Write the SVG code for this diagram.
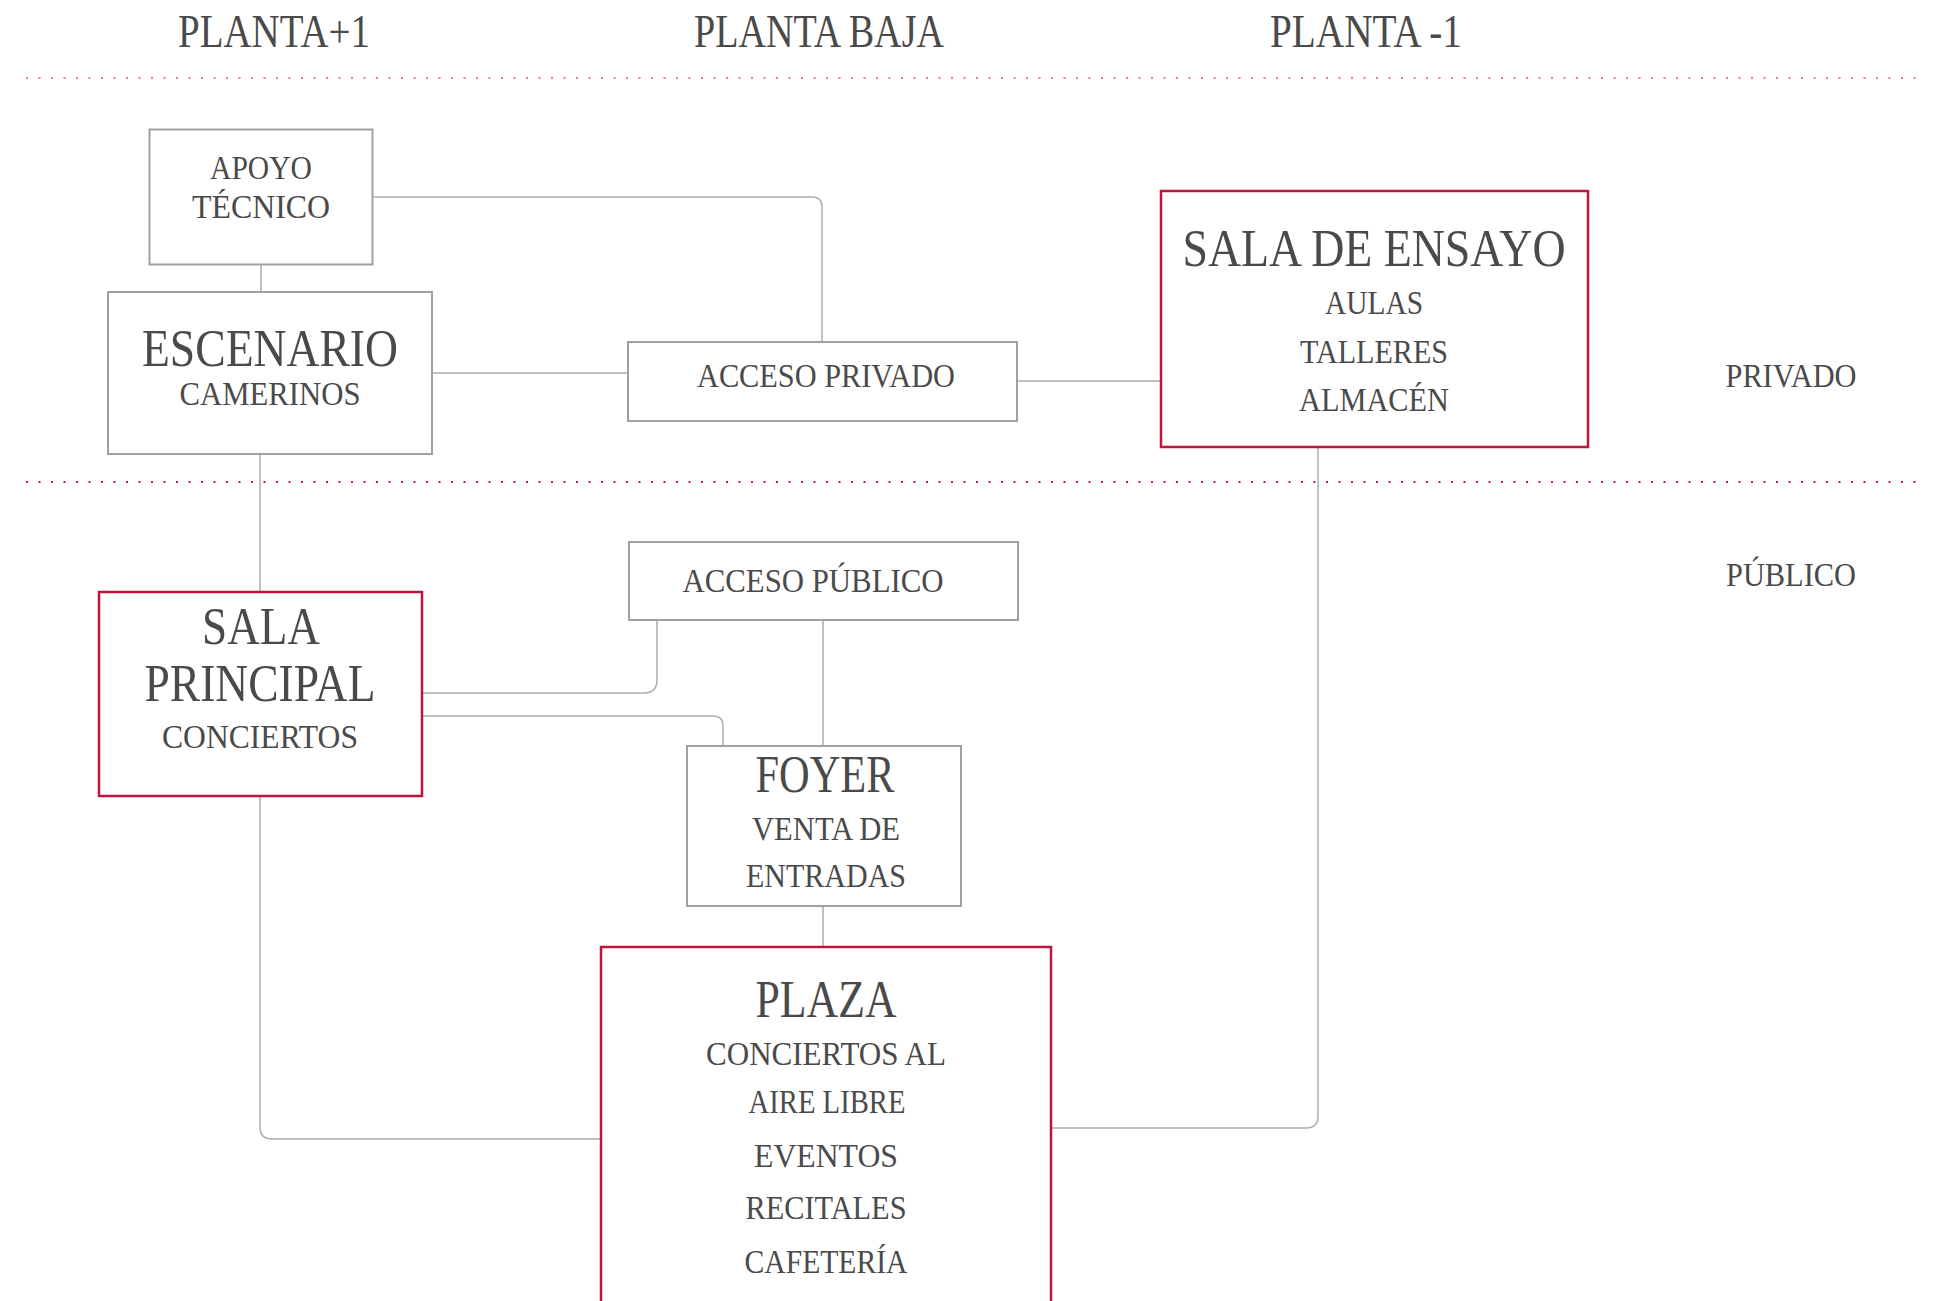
<svg xmlns="http://www.w3.org/2000/svg" width="1936" height="1301" viewBox="0 0 1936 1301">
<style>
text{font-family:"Liberation Serif","DejaVu Serif",serif;fill:#4a4a4a;text-anchor:middle}
.h{font-size:46px}
.b{font-size:52px}
.s{font-size:33px}
.box{fill:#fff;stroke:#a0a0a0;stroke-width:2}
.red{fill:#fff;stroke:#c0143c;stroke-width:2.5}
.c{fill:none;stroke:#adadad;stroke-width:1.5}
.dot1{stroke:#e07c98;stroke-width:2;stroke-dasharray:2 10.5}
.dot2{stroke:#d01848;stroke-width:2;stroke-dasharray:2 10.5}
</style>
<rect width="1936" height="1301" fill="#fff"/>
<g id="headers">
<text class="h" x="274" y="47" textLength="192" lengthAdjust="spacingAndGlyphs">PLANTA+1</text>
<text class="h" x="819" y="47" textLength="250" lengthAdjust="spacingAndGlyphs">PLANTA BAJA</text>
<text class="h" x="1366" y="47" textLength="192" lengthAdjust="spacingAndGlyphs">PLANTA -1</text>
</g>
<g id="separators">
<line class="dot1" x1="26" y1="78" x2="1924" y2="78"/>
<line class="dot2" x1="26" y1="482" x2="1924" y2="482"/>
</g>
<g id="zones">
<text class="s" x="1791" y="387" textLength="131" lengthAdjust="spacingAndGlyphs">PRIVADO</text>
<text class="s" x="1791" y="586" textLength="130" lengthAdjust="spacingAndGlyphs">PÚBLICO</text>
</g>
<g id="connectors">
<path class="c" d="M372 197 H812 Q822 197 822 207 V342"/>
<path class="c" d="M261 264 V292"/>
<path class="c" d="M432 373 H628"/>
<path class="c" d="M1017 381 H1161"/>
<path class="c" d="M260 454 V592"/>
<path class="c" d="M422 693 H644 Q657 693 657 680 V620"/>
<path class="c" d="M422 716 H713 Q723 716 723 726 V746"/>
<path class="c" d="M823 620 V746"/>
<path class="c" d="M823 906 V947"/>
<path class="c" d="M260 796 V1127 Q260 1139 272 1139 H601"/>
<path class="c" d="M1051 1128 H1306 Q1318 1128 1318 1116 V447"/>
</g>
<g id="apoyo">
<rect class="box" x="149.5" y="129.5" width="223" height="135"/>
<text class="s" x="261" y="179" textLength="102" lengthAdjust="spacingAndGlyphs">APOYO</text>
<text class="s" x="261" y="218" textLength="138" lengthAdjust="spacingAndGlyphs">TÉCNICO</text>
</g>
<g id="escenario">
<rect class="box" x="108" y="292" width="324" height="162"/>
<text class="b" x="270" y="366" textLength="256" lengthAdjust="spacingAndGlyphs">ESCENARIO</text>
<text class="s" x="270" y="405" textLength="181" lengthAdjust="spacingAndGlyphs">CAMERINOS</text>
</g>
<g id="acceso-privado">
<rect class="box" x="628" y="342" width="389" height="79"/>
<text class="s" x="826" y="387" textLength="258" lengthAdjust="spacingAndGlyphs">ACCESO PRIVADO</text>
</g>
<g id="sala-ensayo">
<rect class="red" x="1161" y="191" width="427" height="256"/>
<text class="b" x="1374" y="266" textLength="383" lengthAdjust="spacingAndGlyphs">SALA DE ENSAYO</text>
<text class="s" x="1374" y="314" textLength="98" lengthAdjust="spacingAndGlyphs">AULAS</text>
<text class="s" x="1374" y="363" textLength="148" lengthAdjust="spacingAndGlyphs">TALLERES</text>
<text class="s" x="1374" y="411" textLength="150" lengthAdjust="spacingAndGlyphs">ALMACÉN</text>
</g>
<g id="sala-principal">
<rect class="red" x="99" y="592" width="323" height="204"/>
<text class="b" x="261" y="644" textLength="118" lengthAdjust="spacingAndGlyphs">SALA</text>
<text class="b" x="260" y="701" textLength="231" lengthAdjust="spacingAndGlyphs">PRINCIPAL</text>
<text class="s" x="260" y="748" textLength="196" lengthAdjust="spacingAndGlyphs">CONCIERTOS</text>
</g>
<g id="acceso-publico">
<rect class="box" x="629" y="542" width="389" height="78"/>
<text class="s" x="813" y="592" textLength="261" lengthAdjust="spacingAndGlyphs">ACCESO PÚBLICO</text>
</g>
<g id="foyer">
<rect class="box" x="687" y="746" width="274" height="160"/>
<text class="b" x="825" y="792" textLength="139" lengthAdjust="spacingAndGlyphs">FOYER</text>
<text class="s" x="826" y="840" textLength="148" lengthAdjust="spacingAndGlyphs">VENTA DE</text>
<text class="s" x="826" y="887" textLength="160" lengthAdjust="spacingAndGlyphs">ENTRADAS</text>
</g>
<g id="plaza">
<rect class="red" x="601" y="947" width="450" height="400"/>
<text class="b" x="826" y="1017" textLength="141" lengthAdjust="spacingAndGlyphs">PLAZA</text>
<text class="s" x="826" y="1065" textLength="240" lengthAdjust="spacingAndGlyphs">CONCIERTOS AL</text>
<text class="s" x="827" y="1113" textLength="157" lengthAdjust="spacingAndGlyphs">AIRE LIBRE</text>
<text class="s" x="826" y="1167" textLength="144" lengthAdjust="spacingAndGlyphs">EVENTOS</text>
<text class="s" x="826" y="1219" textLength="161" lengthAdjust="spacingAndGlyphs">RECITALES</text>
<text class="s" x="826" y="1273" textLength="163" lengthAdjust="spacingAndGlyphs">CAFETERÍA</text>
</g>
</svg>
